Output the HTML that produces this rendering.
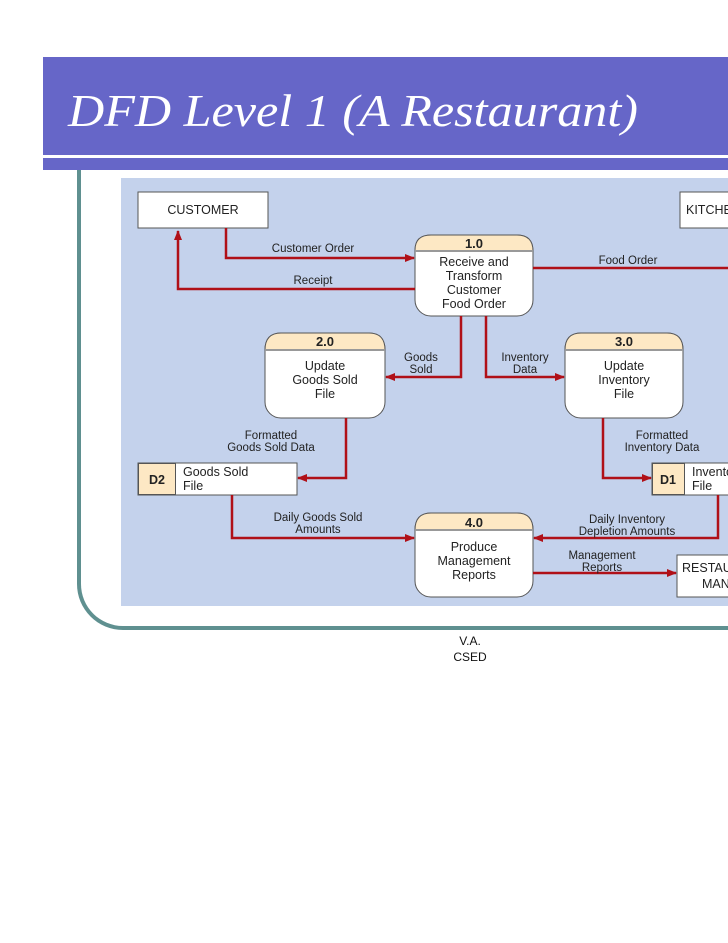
<!DOCTYPE html>
<html><head><style>
body{margin:0;width:728px;height:943px;background:#fff;position:relative;overflow:hidden;font-family:"Liberation Sans",sans-serif}
.bar{position:absolute;left:43px;top:57px;width:685px;height:98px;background:#6666c8}
.stripe{position:absolute;left:43px;top:158px;width:685px;height:12px;background:#6666c8}
.title{position:absolute;left:68px;top:84px;font:italic 46px "Liberation Serif",serif;color:#fff;white-space:nowrap;transform:scaleX(1.09);transform-origin:0 0}
.frame{position:absolute;left:77px;top:170px;width:700px;height:456px;border-left:4px solid #5f9090;border-bottom:4px solid #5f9090;border-bottom-left-radius:46px}
.diag{position:absolute;left:121px;top:178px;width:607px;height:428px;background:#c4d2ec}
.foot{position:absolute;left:440px;top:633px;width:60px;text-align:center;font-size:12px;line-height:16px;color:#111}
</style></head><body>
<div class="frame"></div>
<div class="bar"></div><div class="stripe"></div>
<div class="title">DFD Level 1 (A Restaurant)</div>
<div class="diag"></div>
<svg style="position:absolute;left:0;top:0" width="728" height="943" font-family="Liberation Sans, sans-serif" font-size="11.5" fill="#222">
<defs><marker id="a" markerWidth="10" markerHeight="8" refX="9" refY="4" orient="auto" markerUnits="userSpaceOnUse"><path d="M0,0L10,4L0,8z" fill="#b01018"/></marker></defs>
<g fill="#fff" stroke="#555" stroke-width="1">
<rect x="138" y="192" width="130" height="36"/>
<rect x="680" y="192" width="80" height="36"/>
<rect x="677" y="555" width="80" height="42"/>
<rect x="138" y="463" width="159" height="32"/>
<rect x="652" y="463" width="90" height="32"/>
</g>
<rect x="138.5" y="463.5" width="37" height="31" fill="#fde8c4" stroke="#555"/>
<rect x="652.5" y="463.5" width="32" height="31" fill="#fde8c4" stroke="#555"/>
<g stroke="#555" stroke-width="1">
<g><rect x="415" y="235" width="118" height="81" rx="16" fill="#fff"/><path d="M415,251 V250 Q415,235 431,235 H517 Q533,235 533,251 Z" fill="#fde8c4"/><line x1="415" y1="251" x2="533" y2="251" stroke="#999" stroke-width="2"/></g>
<g><rect x="265" y="333" width="120" height="85" rx="16" fill="#fff"/><path d="M265,350 Q265,333 281,333 H369 Q385,333 385,350 Z" fill="#fde8c4"/><line x1="265" y1="350" x2="385" y2="350" stroke="#999" stroke-width="2"/></g>
<g><rect x="565" y="333" width="118" height="85" rx="16" fill="#fff"/><path d="M565,350 Q565,333 581,333 H667 Q683,333 683,350 Z" fill="#fde8c4"/><line x1="565" y1="350" x2="683" y2="350" stroke="#999" stroke-width="2"/></g>
<g><rect x="415" y="513" width="118" height="84" rx="16" fill="#fff"/><path d="M415,530 Q415,513 431,513 H517 Q533,513 533,530 Z" fill="#fde8c4"/><line x1="415" y1="530" x2="533" y2="530" stroke="#999" stroke-width="2"/></g>
</g>
<g stroke="#b01018" stroke-width="2.5" fill="none">
<path d="M226,228V258H414" marker-end="url(#a)"/>
<path d="M415,289H178V231" marker-end="url(#a)"/>
<path d="M533,268H728"/>
<path d="M461,316V377H386" marker-end="url(#a)"/>
<path d="M486,316V377H564" marker-end="url(#a)"/>
<path d="M346,418V478H298" marker-end="url(#a)"/>
<path d="M603,418V478H651" marker-end="url(#a)"/>
<path d="M232,495V538H414" marker-end="url(#a)"/>
<path d="M718,495V538H534" marker-end="url(#a)"/>
<path d="M533,573H676" marker-end="url(#a)"/>
</g>
<g text-anchor="middle">
<text x="203" y="214" font-size="12.5">CUSTOMER</text>
<text x="157" y="484" font-weight="bold" font-size="12.5">D2</text>
<text x="668" y="484" font-weight="bold" font-size="12.5">D1</text>
<text x="474" y="248" font-weight="bold" font-size="13">1.0</text>
<text x="474" y="266" font-size="12.5">Receive and</text>
<text x="474" y="280" font-size="12.5">Transform</text>
<text x="474" y="294" font-size="12.5">Customer</text>
<text x="474" y="308" font-size="12.5">Food Order</text>
<text x="325" y="346" font-weight="bold" font-size="13">2.0</text>
<text x="325" y="370" font-size="12.5">Update</text>
<text x="325" y="384" font-size="12.5">Goods Sold</text>
<text x="325" y="398" font-size="12.5">File</text>
<text x="624" y="346" font-weight="bold" font-size="13">3.0</text>
<text x="624" y="370" font-size="12.5">Update</text>
<text x="624" y="384" font-size="12.5">Inventory</text>
<text x="624" y="398" font-size="12.5">File</text>
<text x="474" y="527" font-weight="bold" font-size="13">4.0</text>
<text x="474" y="551" font-size="12.5">Produce</text>
<text x="474" y="565" font-size="12.5">Management</text>
<text x="474" y="579" font-size="12.5">Reports</text>
<text x="313" y="252">Customer Order</text>
<text x="313" y="284">Receipt</text>
<text x="628" y="264">Food Order</text>
<text x="421" y="361">Goods</text>
<text x="421" y="373">Sold</text>
<text x="525" y="361">Inventory</text>
<text x="525" y="373">Data</text>
<text x="271" y="439">Formatted</text>
<text x="271" y="451">Goods Sold Data</text>
<text x="662" y="439">Formatted</text>
<text x="662" y="451">Inventory Data</text>
<text x="318" y="521">Daily Goods Sold</text>
<text x="318" y="533">Amounts</text>
<text x="627" y="523">Daily Inventory</text>
<text x="627" y="535">Depletion Amounts</text>
<text x="602" y="559">Management</text>
<text x="602" y="571">Reports</text>
</g>
<g font-size="12.5">
<text x="686" y="214">KITCHEN</text>
<text x="682" y="572">RESTAURANT</text>
<text x="702" y="588">MANAGER</text>
<text x="183" y="476">Goods Sold</text>
<text x="183" y="490">File</text>
<text x="692" y="476">Inventory</text>
<text x="692" y="490">File</text>
</g>
</svg>
<div class="foot">V.A.<br>CSED</div>
</body></html>
